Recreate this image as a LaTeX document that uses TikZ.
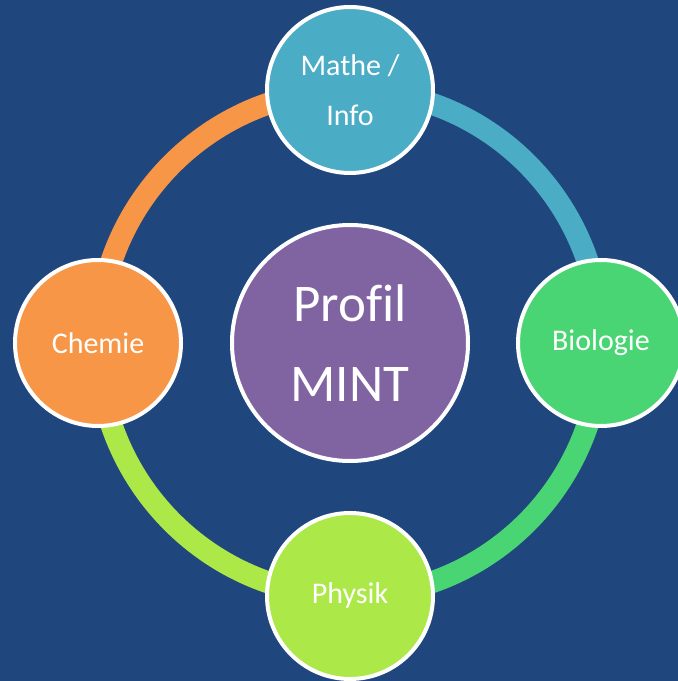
\documentclass[tikz,border=0pt]{standalone}
\usepackage{fontspec}
\setmainfont[Ligatures=NoCommon]{Carlito}
\usetikzlibrary{calc}
\definecolor{bg}{HTML}{20477D}
\definecolor{cteal}{HTML}{4BACC6}
\definecolor{cgreen}{HTML}{4AD574}
\definecolor{clime}{HTML}{ACE848}
\definecolor{corange}{HTML}{F79646}
\definecolor{cpurple}{HTML}{8064A2}
\begin{document}
\begin{tikzpicture}[x=1pt,y=1pt,
  sat/.style={circle, draw=white, line width=4pt, minimum size=166pt, inner sep=0pt,
    text=white, font=\fontsize{30}{50}\selectfont, align=center},
  hub/.style={circle, draw=white, line width=4pt, minimum size=236pt, inner sep=0pt,
    text=white, font=\fontsize{53}{80}\selectfont, align=center},
  ring/.style={line width=22pt}]
\fill[bg] (0,0) rectangle (678,681);
\useasboundingbox (0,0) rectangle (678,681);
\clip (0,0) rectangle (678,681);
\coordinate (c) at (350,338);
\coordinate (pt) at ($(c)+(90:253)$);
\coordinate (pr) at ($(c)+(0:251)$);
\coordinate (pb) at ($(c)+(270:253)$);
\coordinate (pl) at ($(c)+(180:252)$);
\draw[ring, cteal] (pt) arc[start angle=90, end angle=0, x radius=251, y radius=253];
\draw[ring, cgreen] (pr) arc[start angle=0, end angle=-90, x radius=251, y radius=253];
\draw[ring, clime] (pb) arc[start angle=270, end angle=180, x radius=252, y radius=253];
\draw[ring, corange] (pl) arc[start angle=180, end angle=90, x radius=252, y radius=253];
\node[hub, fill=cpurple] (hub) at (c) {Profil\\MINT};
\node[sat, fill=cteal] (mathe) at (pt) {Mathe /\\Info};
\node[sat, fill=cgreen] (bio) at (pr) {Biologie};
\node[sat, fill=clime] (phys) at (pb) {Physik};
\node[sat, fill=corange] (chem) at (pl) {Chemie};
\end{tikzpicture}
\end{document}
